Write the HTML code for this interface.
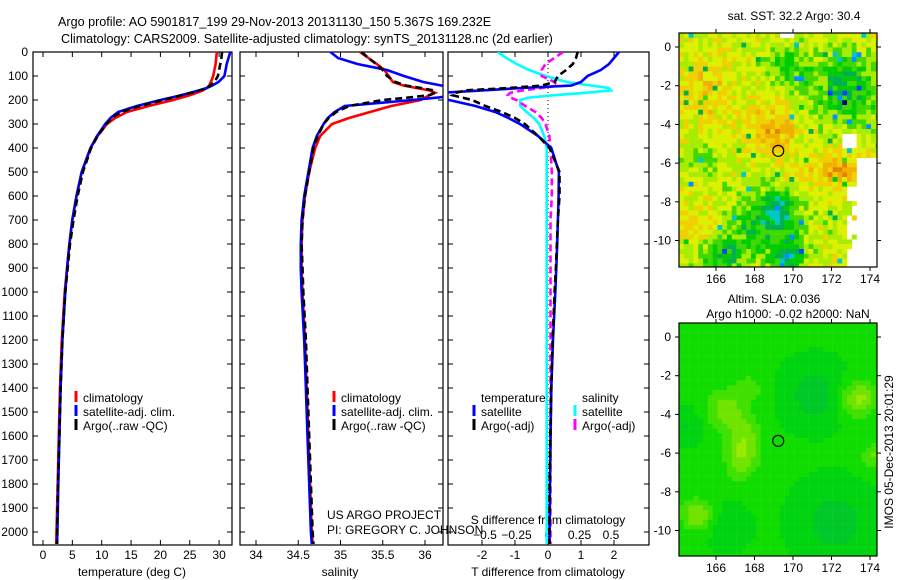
<!DOCTYPE html>
<html><head><meta charset="utf-8">
<style>
html,body{margin:0;padding:0;background:#fff;}
svg{display:block;font-family:"Liberation Sans",sans-serif;}
text{font-size:12px;fill:#000;}
</style></head>
<body>
<svg id="chart" width="900" height="580" viewBox="0 0 900 580" xmlns="http://www.w3.org/2000/svg">
<defs>
<clipPath id="c1"><rect x="33" y="52" width="199" height="493"/></clipPath>
<clipPath id="c2"><rect x="240" y="52" width="203" height="493"/></clipPath>
<clipPath id="c3"><rect x="448" y="52" width="201" height="493"/></clipPath>
<clipPath id="cm1"><rect x="679" y="33" width="198" height="234"/></clipPath>
<clipPath id="cm2"><rect x="679" y="323" width="198" height="233"/></clipPath>
</defs>
<text x="58" y="26" style="font-size:12.6px">Argo profile: AO 5901817_199 29-Nov-2013 20131130_150 5.367S 169.232E</text>
<text x="61" y="43" style="font-size:12.6px">Climatology: CARS2009. Satellite-adjusted climatology: synTS_20131128.nc (2d earlier)</text>
<g id="g1"></g>
<g id="g2"></g>
<g id="g3"></g>
<g id="m1"></g>
<g id="m2"></g>
<text x="327" y="519">US ARGO PROJECT</text>
<text x="327" y="534">PI: GREGORY C. JOHNSON</text>
<text x="794" y="20" text-anchor="middle">sat. SST: 32.2  Argo: 30.4</text>
<text x="774" y="303" text-anchor="middle">Altim. SLA: 0.036</text>
<text x="788" y="318" text-anchor="middle">Argo h1000: -0.02 h2000: NaN</text>
<text transform="translate(893,452) rotate(-90)" text-anchor="middle">IMOS 05-Dec-2013 20:01:29</text>
</svg>
<script>
// ---- data ----
const depths   = [0,25,50,75,100,125,140,150,160,170,180,190,200,225,250,275,300,350,400,500,600,700,800,900,1000,1200,1400,1600,1800,2000,2050];
const tempClim = [29.6,29.5,29.4,29.2,29.0,28.6,28.3,27.9,27.2,26.2,25.0,23.6,22.2,18.0,14.3,12.3,10.9,9.3,8.1,6.6,5.7,5.0,4.5,4.1,3.7,3.2,2.9,2.7,2.5,2.3,2.25];
const tempSat  = [31.9,31.6,31.3,31.1,30.9,29.9,28.8,27.9,26.6,25.1,23.5,21.8,20.0,16.0,12.8,11.5,10.6,9.2,8.1,6.6,5.7,5.0,4.5,4.1,3.8,3.3,3.0,2.8,2.6,2.45,2.4];
const tempArgo = [30.5,30.4,30.2,30.0,29.8,29.2,28.5,27.9,26.7,25.3,23.7,22.1,20.5,16.5,13.3,11.7,10.8,9.3,8.2,6.8,5.9,5.2,4.6,4.2,3.8,3.3,3.0,2.8,2.55,2.4,2.38];
const salClim  = [35.23,35.33,35.43,35.52,35.57,35.62,35.75,35.9,36.05,36.12,36.05,36.0,35.95,35.6,35.35,35.1,34.9,34.76,34.7,34.63,34.58,34.55,34.54,34.54,34.55,34.58,34.6,34.62,34.64,34.66,34.67];
const salSat   = [34.88,34.97,35.2,35.55,35.75,35.98,36.2,36.35,36.35,36.35,36.35,36.15,35.85,35.05,34.93,34.85,34.8,34.72,34.67,34.62,34.57,34.54,34.53,34.53,34.54,34.57,34.59,34.61,34.63,34.65,34.66];
const salArgo  = [35.25,35.33,35.42,35.5,35.55,35.65,35.78,35.95,36.1,36.12,36.05,35.8,35.5,35.1,34.95,34.86,34.8,34.73,34.68,34.63,34.58,34.55,34.54,34.55,34.56,34.59,34.61,34.63,34.65,34.67,34.68];
const tdiffSat = [2.15,2.0,1.85,1.6,1.2,1.0,0.7,-0.8,-2.0,-3.2,-3.5,-3.5,-3.0,-2.2,-1.6,-1.2,-0.85,-0.3,0.1,0.33,0.32,0.3,0.28,0.25,0.22,0.15,0.1,0.08,0.06,0.05,0.05];
const tdiffArgo= [0.9,0.85,0.75,0.55,0.3,0.2,-0.2,-1.2,-2.5,-2.8,-2.9,-2.6,-2.3,-1.9,-1.4,-1.0,-0.7,-0.3,0.05,0.35,0.35,0.3,0.27,0.24,0.2,0.14,0.1,0.07,0.05,0.04,0.04];
const sdiffSat = [-0.4,-0.33,-0.25,-0.15,-0.02,0.15,0.35,0.48,0.5,0.3,0.05,-0.15,-0.22,-0.22,-0.17,-0.11,-0.07,-0.03,-0.01,-0.01,-0.01,-0.01,-0.01,-0.01,-0.01,-0.01,-0.01,-0.01,-0.01,-0.01,-0.01];
const sdiffArgo= [0.12,0.05,-0.02,-0.05,-0.05,0.05,0.08,-0.05,-0.2,-0.3,-0.32,-0.3,-0.25,-0.18,-0.1,-0.05,-0.02,0.01,0.02,0.03,0.03,0.02,0.02,0.02,0.02,0.02,0.02,0.02,0.02,0.02,0.02];
const depthTicks = [0,100,200,300,400,500,600,700,800,900,1000,1100,1200,1300,1400,1500,1600,1700,1800,1900,2000];
const tempTicks = [0,5,10,15,20,25,30];
const salTicks = [34,34.5,35,35.5,36];
const tdiffTicks = [-2,-1,0,1,2];
const sdiffTicks = [-0.5,-0.25,0,0.25,0.5];
const lonTicks = [166,168,170,172,174];
const latTicks = [0,-2,-4,-6,-8,-10];
const floatLon = 169.232, floatLat = -5.367;

// ---- scales ----
const Y0=52, Y1=545;
const yD = d => Y0 + d*0.24;
const xT = t => 43 + t*5.87;
const xS = s => 256 + (s-34)*84.5;
const xTd = v => 548 + v*33;
const xSd = v => 548 + v*126;
const NS="http://www.w3.org/2000/svg";
function mk(tag, attrs, parent){const e=document.createElementNS(NS,tag);for(const k in attrs)e.setAttribute(k,attrs[k]);parent.appendChild(e);return e;}

function frame(g, x0, x1, name){
  const r = mk('rect',{x:x0,y:Y0,width:x1-x0,height:Y1-Y0,fill:'none',stroke:'#000','stroke-width':1.2},g);
  
  
  depthTicks.forEach(d=>{
    const y=yD(d);
    const t1=mk('line',{x1:x0,x2:x0+5,y1:y,y2:y,stroke:'#000'},g);
    
    
    const t2=mk('line',{x1:x1,x2:x1-5,y1:y,y2:y,stroke:'#000'},g);
    
    
  });
}
function xticks(g, ticks, sc, labelY, fmt){
  ticks.forEach(v=>{
    const x=sc(v);
    const a=mk('line',{x1:x,x2:x,y1:Y0,y2:Y0+5,stroke:'#000'},g);
    
    
    const b=mk('line',{x1:x,x2:x,y1:Y1,y2:Y1-5,stroke:'#000'},g);
    
    
    const t=mk('text',{x:x,y:labelY,'text-anchor':'middle'},g);
    t.textContent = fmt? fmt(v): String(v);
    
    
  });
}
function line(g, xs, sc, color, dash, clip, name){
  let pts=[];
  depths.forEach((d,i)=>{ if(xs[i]!==null) pts.push(sc(xs[i]).toFixed(1)+','+yD(d).toFixed(1)); });
  const p=mk('polyline',{points:pts.join(' '),fill:'none',stroke:color,'stroke-width':2.6,'clip-path':'url(#'+clip+')'},g);
  if(dash) p.setAttribute('stroke-dasharray',dash);
  
  
}
function legend(g, x, y, color, label, name){
  const l=mk('line',{x1:x,x2:x,y1:y-11,y2:y,stroke:color,'stroke-width':3},g);
  
  
  const t=mk('text',{x:x+7,y:y},g);
  t.textContent=label;
  
  
}

// ---- panel 1 ----
const g1=document.getElementById('g1');
frame(g1,33,232,'temperature-panel');
depthTicks.forEach(d=>{
  const t=mk('text',{x:28,y:yD(d)+4,'text-anchor':'end'},g1);
  t.textContent=String(d);
  
  
});
xticks(g1,tempTicks,xT,559);
line(g1,tempClim,xT,'#ff0000',null,'c1','temp-climatology-line');
line(g1,tempSat,xT,'#0000ff',null,'c1','temp-satellite-line');
line(g1,tempArgo,xT,'#000',"7,4",'c1','temp-argo-line');
legend(g1,76,402,'#ff0000','climatology','legend-climatology');
legend(g1,76,416,'#0000ff','satellite-adj. clim.','legend-satellite');
legend(g1,76,430,'#000','Argo(..raw -QC)','legend-argo');
let tx=mk('text',{x:132,y:576,'text-anchor':'middle'},g1);tx.textContent='temperature (deg C)';



// ---- panel 2 ----
const g2=document.getElementById('g2');
frame(g2,240,443,'salinity-panel');
xticks(g2,salTicks,xS,559);
line(g2,salClim,xS,'#ff0000',null,'c2','sal-climatology-line');
line(g2,salSat,xS,'#0000ff',null,'c2','sal-satellite-line');
line(g2,salArgo,xS,'#000',"7,4",'c2','sal-argo-line');
legend(g2,334,402,'#ff0000','climatology','legend-climatology');
legend(g2,334,416,'#0000ff','satellite-adj. clim.','legend-satellite');
legend(g2,334,430,'#000','Argo(..raw -QC)','legend-argo');
tx=mk('text',{x:340,y:576,'text-anchor':'middle'},g2);tx.textContent='salinity';



// ---- panel 3 ----
const g3=document.getElementById('g3');
frame(g3,448,649,'difference-panel');
xticks(g3,tdiffTicks,xTd,559);
const zl=mk('line',{x1:548,x2:548,y1:Y0,y2:Y1,stroke:'#000','stroke-dasharray':'1,3'},g3);


sdiffTicks.forEach(v=>{
  const t=mk('text',{x:xSd(v),y:539,'text-anchor':'middle'},g3);
  t.textContent=String(v).replace('-','\u2212');
  
  
});
tx=mk('text',{x:548,y:524,'text-anchor':'middle'},g3);tx.textContent='S difference from climatology';


tx=mk('text',{x:548,y:576,'text-anchor':'middle'},g3);tx.textContent='T difference from climatology';


line(g3,sdiffSat,xSd,'#00ffff',null,'c3','s-diff-satellite-line');
line(g3,sdiffArgo,xSd,'#ff00ff',"7,4",'c3','s-diff-argo-line');
line(g3,tdiffSat,xTd,'#0000ff',null,'c3','t-diff-satellite-line');
line(g3,tdiffArgo,xTd,'#000',"7,4",'c3','t-diff-argo-line');
tx=mk('text',{x:481,y:402},g3);tx.textContent='temperature';


tx=mk('text',{x:582,y:402},g3);tx.textContent='salinity';


legend(g3,474,416,'#0000ff','satellite','legend-t-satellite');
legend(g3,474,430,'#000','Argo(-adj)','legend-t-argo');
legend(g3,575,416,'#00ffff','satellite','legend-s-satellite');
legend(g3,575,430,'#ff00ff','Argo(-adj)','legend-s-argo');

// ---- maps ----
function mapAxes(g, top, bot, lat0y){
  const xL=l=>716+(l-166)*19.25;
  const yL=la=>lat0y-la*19.35;
  const r=mk('rect',{x:679,y:top,width:198,height:bot-top,fill:'none',stroke:'#000','stroke-width':1.2},g);
  
  
  lonTicks.forEach(l=>{
    const x=xL(l);
    const a=mk('line',{x1:x,x2:x,y1:bot,y2:bot+4,stroke:'#000'},g);
    
    
    const b=mk('line',{x1:x,x2:x,y1:top,y2:top-4,stroke:'#000'},g);
    
    
    const t=mk('text',{x:x,y:bot+16,'text-anchor':'middle'},g);t.textContent=String(l);
    
    
  });
  latTicks.forEach(la=>{
    const y=yL(la);
    const a=mk('line',{x1:679,x2:675,y1:y,y2:y,stroke:'#000'},g);
    
    
    const b=mk('line',{x1:877,x2:881,y1:y,y2:y,stroke:'#000'},g);
    
    
    const t=mk('text',{x:671,y:y+4,'text-anchor':'end'},g);t.textContent=String(la);
    
    
  });
  const c=mk('circle',{cx:xL(floatLon),cy:yL(floatLat),r:5.5,fill:'none',stroke:'#000','stroke-width':1.2},g);
  
  
  return [xL,yL];
}
function hash(i,j){let h=(i*374761393+j*668265263)^0x5bf03635;h=(h^(h>>>13))*1274126177;h=h^(h>>>16);return ((h>>>0)%10000)/10000;}
function gsum(lon,lat,list){let s=0;list.forEach(p=>{const dx=(lon-p[0])/p[2],dy=(lat-p[1])/p[2];s+=p[3]*Math.exp(-(dx*dx+dy*dy));});return s;}

// SST map
const CS=4.8;
const m1=document.getElementById('m1');
const sstPal=['#000080','#0040ff','#0090ff','#00c8c8','#00b050','#00cc00','#40d800','#a8ec00','#dcf000','#f0d000','#f0b000','#e88000','#c84000'];
const sstBumps=[[168.9,-4.2,1.3,2.2],[172.4,-6.3,0.9,2.6],[165.3,-2.0,1.6,1.4],[165.2,-9.4,1.1,1.4],[170.5,-6.5,1.2,0.9],[166,-4.5,1.2,0.6],
  [172.8,-2.2,1.7,-3.0],[168.5,-9.2,1.7,-2.8],[169.3,-8.3,0.8,-3.0],[166.3,-10.8,1.1,-2.8],[165.3,-5.8,0.8,-1.8],[169.8,-1.0,1.0,-2.4],[169.8,-10.8,0.7,-4]];
const cg=mk('g',{'clip-path':'url(#cm1)'},m1);


for(let i=0;i<42;i++){for(let j=0;j<49;j++){
  const x=679+i*CS,y=33+j*CS;
  const lon=164.08+(i+0.5)*CS/19.25, lat=0.72-(j+0.5)*CS/19.35;
  let cloud=(lon>172.8&&lat<-7.2&&hash(i,j+99)<0.85)||(lon>172.5&&lon<173.3&&lat<-4.6&&lat>-5.3)||(lon>173.3&&lat<-5.8)||(lon>169.3&&lon<170.1&&lat>0.45);
  if(cloud) continue;
  let v=7.6+gsum(lon,lat,sstBumps)+(hash(i,j)-0.5)*2.2;
  if(hash(j,i+7)<0.025) v-=4;
  let k=Math.round(v); k=Math.max(0,Math.min(12,k));
  const r=mk('rect',{x:x,y:y,width:CS+0.2,height:CS+0.2,fill:sstPal[k]},cg);
  
  
}}
mapAxes(m1,33,267,47);

// SLA map
const m2=document.getElementById('m2');
const slaPal=['#00b838','#00c828','#00d410','#10dc00','#40e000','#70e400','#98ea00'];
const slaBumps=[[167.4,-5.9,0.9,2.8],[167.5,-4.8,0.8,1.5],[166.5,-3.8,1.1,2.4],[167.8,-2.6,0.8,1.2],[173.4,-3.2,0.9,3.3],[165.0,-9.2,0.8,3.0],[174.2,-6.2,0.7,2],[167.2,-7,0.8,1.2],
  [171.1,-3.0,1.4,-1.8],[172.2,-9.6,1.7,-1.8],[164.6,-4.6,0.8,-1.2],[166.6,-9.8,1,-0.8]];
const cg2=mk('g',{'clip-path':'url(#cm2)'},m2);


for(let i=0;i<42;i++){for(let j=0;j<49;j++){
  const x=679+i*CS,y=323+j*CS;
  const lon=164.08+(i+0.5)*CS/19.25, lat=0.72-(j+0.5)*CS/19.35;
  let v=2.6+gsum(lon,lat,slaBumps);
  let k=Math.round(v); k=Math.max(0,Math.min(6,k));
  const r=mk('rect',{x:x,y:y,width:CS+0.2,height:CS+0.2,fill:slaPal[k]},cg2);
  
  
}}
mapAxes(m2,323,556,337);
</script>
</body></html>
